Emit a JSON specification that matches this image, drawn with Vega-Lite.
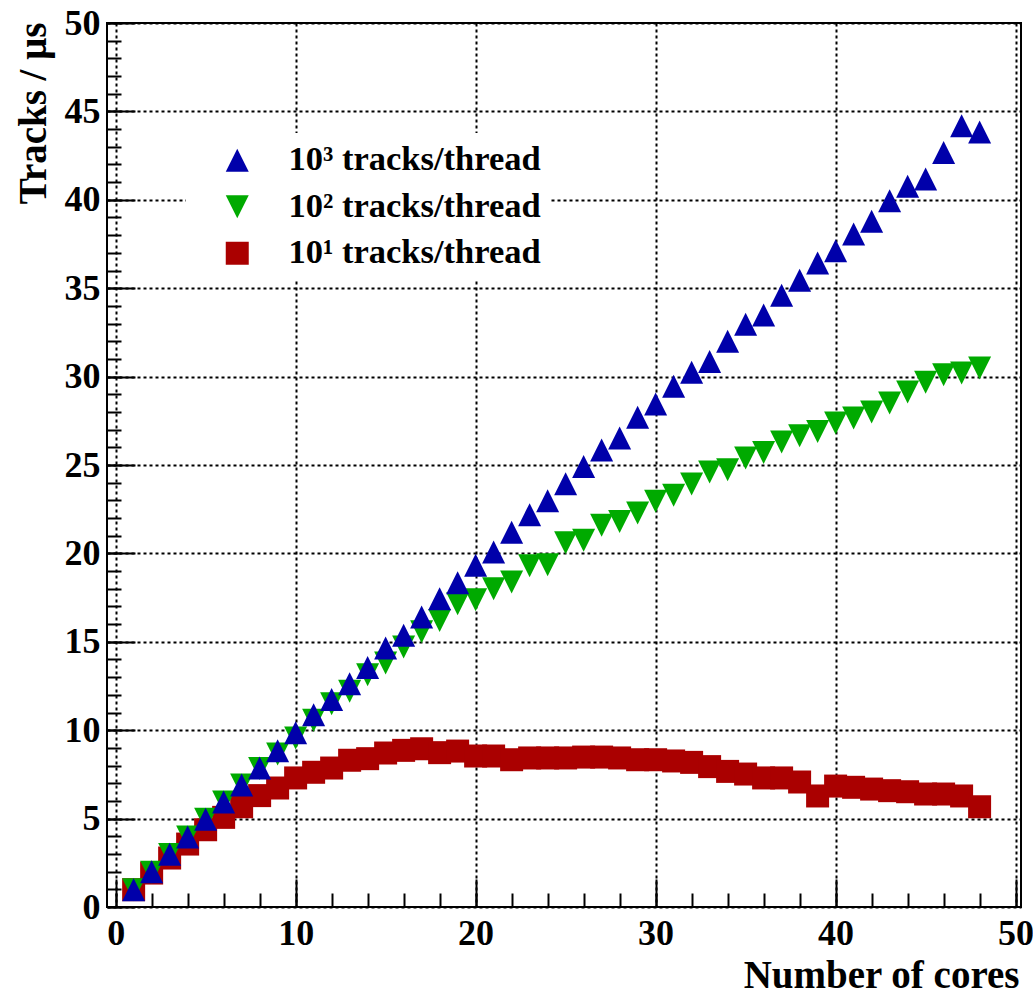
{
  "$schema": "https://vega.github.io/schema/vega-lite/v6.json",
  "width": 914,
  "height": 884,
  "autosize": {"type": "none"},
  "padding": {"left": 107, "top": 23, "right": 12, "bottom": 89},
  "background": "white",
  "config": {
    "view": {"stroke": "black", "strokeWidth": 2},
    "axis": {
      "labelFont": "Liberation Serif", "labelFontWeight": "bold", "labelFontSize": 36, "labelColor": "black",
      "titleFont": "Liberation Serif", "titleFontWeight": "bold", "titleFontSize": 39, "titleColor": "black",
      "tickColor": "black", "tickWidth": 2, "gridColor": "black", "gridDash": [3, 3], "gridWidth": 2, "gridOpacity": 1,
      "domain": false, "labelFlush": false, "labelOverlap": false
    }
  },
  "data": {"values": [
    {"cores":1,"rate":0.98,"series":"10¹ tracks/thread"},{"cores":2,"rate":1.92,"series":"10¹ tracks/thread"},{"cores":3,"rate":2.77,"series":"10¹ tracks/thread"},{"cores":4,"rate":3.56,"series":"10¹ tracks/thread"},{"cores":5,"rate":4.37,"series":"10¹ tracks/thread"},{"cores":6,"rate":5.07,"series":"10¹ tracks/thread"},{"cores":7,"rate":5.67,"series":"10¹ tracks/thread"},{"cores":8,"rate":6.3,"series":"10¹ tracks/thread"},{"cores":9,"rate":6.73,"series":"10¹ tracks/thread"},{"cores":10,"rate":7.3,"series":"10¹ tracks/thread"},{"cores":11,"rate":7.62,"series":"10¹ tracks/thread"},{"cores":12,"rate":7.86,"series":"10¹ tracks/thread"},{"cores":13,"rate":8.3,"series":"10¹ tracks/thread"},{"cores":14,"rate":8.39,"series":"10¹ tracks/thread"},{"cores":15,"rate":8.71,"series":"10¹ tracks/thread"},{"cores":16,"rate":8.86,"series":"10¹ tracks/thread"},{"cores":17,"rate":8.95,"series":"10¹ tracks/thread"},{"cores":18,"rate":8.73,"series":"10¹ tracks/thread"},{"cores":19,"rate":8.82,"series":"10¹ tracks/thread"},{"cores":20,"rate":8.54,"series":"10¹ tracks/thread"},{"cores":21,"rate":8.54,"series":"10¹ tracks/thread"},{"cores":22,"rate":8.33,"series":"10¹ tracks/thread"},{"cores":23,"rate":8.43,"series":"10¹ tracks/thread"},{"cores":24,"rate":8.43,"series":"10¹ tracks/thread"},{"cores":25,"rate":8.43,"series":"10¹ tracks/thread"},{"cores":26,"rate":8.48,"series":"10¹ tracks/thread"},{"cores":27,"rate":8.48,"series":"10¹ tracks/thread"},{"cores":28,"rate":8.43,"series":"10¹ tracks/thread"},{"cores":29,"rate":8.33,"series":"10¹ tracks/thread"},{"cores":30,"rate":8.33,"series":"10¹ tracks/thread"},{"cores":31,"rate":8.26,"series":"10¹ tracks/thread"},{"cores":32,"rate":8.18,"series":"10¹ tracks/thread"},{"cores":33,"rate":7.94,"series":"10¹ tracks/thread"},{"cores":34,"rate":7.67,"series":"10¹ tracks/thread"},{"cores":35,"rate":7.52,"series":"10¹ tracks/thread"},{"cores":36,"rate":7.3,"series":"10¹ tracks/thread"},{"cores":37,"rate":7.3,"series":"10¹ tracks/thread"},{"cores":38,"rate":7.07,"series":"10¹ tracks/thread"},{"cores":39,"rate":6.28,"series":"10¹ tracks/thread"},{"cores":40,"rate":6.84,"series":"10¹ tracks/thread"},{"cores":41,"rate":6.77,"series":"10¹ tracks/thread"},{"cores":42,"rate":6.67,"series":"10¹ tracks/thread"},{"cores":43,"rate":6.58,"series":"10¹ tracks/thread"},{"cores":44,"rate":6.52,"series":"10¹ tracks/thread"},{"cores":45,"rate":6.39,"series":"10¹ tracks/thread"},{"cores":46,"rate":6.39,"series":"10¹ tracks/thread"},{"cores":47,"rate":6.28,"series":"10¹ tracks/thread"},{"cores":48,"rate":5.67,"series":"10¹ tracks/thread"},
    {"cores":1,"rate":0.97,"series":"10² tracks/thread"},{"cores":2,"rate":1.97,"series":"10² tracks/thread"},{"cores":3,"rate":2.97,"series":"10² tracks/thread"},{"cores":4,"rate":3.96,"series":"10² tracks/thread"},{"cores":5,"rate":4.96,"series":"10² tracks/thread"},{"cores":6,"rate":5.94,"series":"10² tracks/thread"},{"cores":7,"rate":6.9,"series":"10² tracks/thread"},{"cores":8,"rate":7.83,"series":"10² tracks/thread"},{"cores":9,"rate":8.65,"series":"10² tracks/thread"},{"cores":10,"rate":9.56,"series":"10² tracks/thread"},{"cores":11,"rate":10.56,"series":"10² tracks/thread"},{"cores":12,"rate":11.5,"series":"10² tracks/thread"},{"cores":13,"rate":12.2,"series":"10² tracks/thread"},{"cores":14,"rate":13.14,"series":"10² tracks/thread"},{"cores":15,"rate":13.8,"series":"10² tracks/thread"},{"cores":16,"rate":14.7,"series":"10² tracks/thread"},{"cores":17,"rate":15.57,"series":"10² tracks/thread"},{"cores":18,"rate":16.21,"series":"10² tracks/thread"},{"cores":19,"rate":17.15,"series":"10² tracks/thread"},{"cores":20,"rate":17.38,"series":"10² tracks/thread"},{"cores":21,"rate":18.0,"series":"10² tracks/thread"},{"cores":22,"rate":18.38,"series":"10² tracks/thread"},{"cores":23,"rate":19.3,"series":"10² tracks/thread"},{"cores":24,"rate":19.36,"series":"10² tracks/thread"},{"cores":25,"rate":20.6,"series":"10² tracks/thread"},{"cores":26,"rate":20.74,"series":"10² tracks/thread"},{"cores":27,"rate":21.59,"series":"10² tracks/thread"},{"cores":28,"rate":21.81,"series":"10² tracks/thread"},{"cores":29,"rate":22.28,"series":"10² tracks/thread"},{"cores":30,"rate":22.95,"series":"10² tracks/thread"},{"cores":31,"rate":23.29,"series":"10² tracks/thread"},{"cores":32,"rate":23.93,"series":"10² tracks/thread"},{"cores":33,"rate":24.6,"series":"10² tracks/thread"},{"cores":34,"rate":24.73,"series":"10² tracks/thread"},{"cores":35,"rate":25.4,"series":"10² tracks/thread"},{"cores":36,"rate":25.7,"series":"10² tracks/thread"},{"cores":37,"rate":26.3,"series":"10² tracks/thread"},{"cores":38,"rate":26.65,"series":"10² tracks/thread"},{"cores":39,"rate":26.9,"series":"10² tracks/thread"},{"cores":40,"rate":27.38,"series":"10² tracks/thread"},{"cores":41,"rate":27.66,"series":"10² tracks/thread"},{"cores":42,"rate":28.0,"series":"10² tracks/thread"},{"cores":43,"rate":28.5,"series":"10² tracks/thread"},{"cores":44,"rate":29.13,"series":"10² tracks/thread"},{"cores":45,"rate":29.68,"series":"10² tracks/thread"},{"cores":46,"rate":30.1,"series":"10² tracks/thread"},{"cores":47,"rate":30.2,"series":"10² tracks/thread"},{"cores":48,"rate":30.49,"series":"10² tracks/thread"},
    {"cores":1,"rate":0.97,"series":"10³ tracks/thread"},{"cores":2,"rate":2.0,"series":"10³ tracks/thread"},{"cores":3,"rate":2.98,"series":"10³ tracks/thread"},{"cores":4,"rate":3.96,"series":"10³ tracks/thread"},{"cores":5,"rate":4.96,"series":"10³ tracks/thread"},{"cores":6,"rate":5.94,"series":"10³ tracks/thread"},{"cores":7,"rate":6.9,"series":"10³ tracks/thread"},{"cores":8,"rate":7.86,"series":"10³ tracks/thread"},{"cores":9,"rate":8.84,"series":"10³ tracks/thread"},{"cores":10,"rate":9.85,"series":"10³ tracks/thread"},{"cores":11,"rate":10.88,"series":"10³ tracks/thread"},{"cores":12,"rate":11.73,"series":"10³ tracks/thread"},{"cores":13,"rate":12.63,"series":"10³ tracks/thread"},{"cores":14,"rate":13.54,"series":"10³ tracks/thread"},{"cores":15,"rate":14.65,"series":"10³ tracks/thread"},{"cores":16,"rate":15.37,"series":"10³ tracks/thread"},{"cores":17,"rate":16.4,"series":"10³ tracks/thread"},{"cores":18,"rate":17.44,"series":"10³ tracks/thread"},{"cores":19,"rate":18.34,"series":"10³ tracks/thread"},{"cores":20,"rate":19.33,"series":"10³ tracks/thread"},{"cores":21,"rate":20.08,"series":"10³ tracks/thread"},{"cores":22,"rate":21.19,"series":"10³ tracks/thread"},{"cores":23,"rate":22.19,"series":"10³ tracks/thread"},{"cores":24,"rate":22.98,"series":"10³ tracks/thread"},{"cores":25,"rate":23.94,"series":"10³ tracks/thread"},{"cores":26,"rate":24.92,"series":"10³ tracks/thread"},{"cores":27,"rate":25.85,"series":"10³ tracks/thread"},{"cores":28,"rate":26.53,"series":"10³ tracks/thread"},{"cores":29,"rate":27.7,"series":"10³ tracks/thread"},{"cores":30,"rate":28.45,"series":"10³ tracks/thread"},{"cores":31,"rate":29.45,"series":"10³ tracks/thread"},{"cores":32,"rate":30.24,"series":"10³ tracks/thread"},{"cores":33,"rate":30.86,"series":"10³ tracks/thread"},{"cores":34,"rate":32.0,"series":"10³ tracks/thread"},{"cores":35,"rate":32.96,"series":"10³ tracks/thread"},{"cores":36,"rate":33.48,"series":"10³ tracks/thread"},{"cores":37,"rate":34.6,"series":"10³ tracks/thread"},{"cores":38,"rate":35.45,"series":"10³ tracks/thread"},{"cores":39,"rate":36.43,"series":"10³ tracks/thread"},{"cores":40,"rate":37.12,"series":"10³ tracks/thread"},{"cores":41,"rate":38.07,"series":"10³ tracks/thread"},{"cores":42,"rate":38.78,"series":"10³ tracks/thread"},{"cores":43,"rate":39.95,"series":"10³ tracks/thread"},{"cores":44,"rate":40.76,"series":"10³ tracks/thread"},{"cores":45,"rate":41.18,"series":"10³ tracks/thread"},{"cores":46,"rate":42.68,"series":"10³ tracks/thread"},{"cores":47,"rate":44.19,"series":"10³ tracks/thread"},{"cores":48,"rate":43.83,"series":"10³ tracks/thread"}
  ]},
  "layer": [
    {
      "mark": {"type": "point", "opacity": 0},
      "encoding": {
        "x": {"field": "cores", "type": "quantitative", "scale": {"domain": [-0.48, 50.3], "nice": false, "zero": false},
              "axis": {"orient": "bottom", "values": [0,2,4,6,8,10,12,14,16,18,20,22,24,26,28,30,32,34,36,38,40,42,44,46,48,50], "tickSize": -14, "labels": false, "grid": false, "title": null}},
        "y": {"field": "rate", "type": "quantitative", "scale": {"domain": [0, 50], "nice": false, "zero": false},
              "axis": {"orient": "left", "values": [0,1,2,3,4,5,6,7,8,9,10,11,12,13,14,15,16,17,18,19,20,21,22,23,24,25,26,27,28,29,30,31,32,33,34,35,36,37,38,39,40,41,42,43,44,45,46,47,48,49,50], "tickSize": -14, "labels": false, "grid": false, "title": null}}
      }
    },
    {
      "mark": {"type": "point", "opacity": 0},
      "encoding": {
        "x": {"field": "cores", "type": "quantitative", "scale": {"domain": [-0.48, 50.3], "nice": false, "zero": false},
              "axis": {"orient": "bottom", "values": [0,10,20,30,40,50], "tickSize": -28, "labels": false, "grid": true, "title": null}},
        "y": {"field": "rate", "type": "quantitative", "scale": {"domain": [0, 50], "nice": false, "zero": false},
              "axis": {"orient": "left", "values": [0,5,10,15,20,25,30,35,40,45,50], "tickSize": -28, "labels": false, "grid": true, "title": null}}
      }
    },
    {
      "mark": {"type": "point", "filled": true, "opacity": 1, "strokeWidth": 0},
      "encoding": {
        "x": {"field": "cores", "type": "quantitative", "scale": {"domain": [-0.48, 50.3], "nice": false, "zero": false},
              "axis": {"orient": "bottom", "values": [0,10,20,30,40,50], "ticks": false, "grid": false, "labelPadding": 9,
                       "title": "Number of cores", "titleAnchor": "end", "titleAlign": "right", "titleBaseline": "alphabetic", "titleX": 912, "titleY": 80}},
        "y": {"field": "rate", "type": "quantitative", "scale": {"domain": [0, 50], "nice": false, "zero": false},
              "axis": {"orient": "left", "values": [0,5,10,15,20,25,30,35,40,45,50], "ticks": false, "grid": false, "labelPadding": 7,
                       "title": "Tracks / μs", "titleAngle": 270, "titleAnchor": "end", "titleAlign": "right", "titleBaseline": "alphabetic", "titleX": -62, "titleY": -1}},
        "color": {"field": "series", "type": "nominal",
                  "scale": {"domain": ["10³ tracks/thread", "10² tracks/thread", "10¹ tracks/thread"], "range": ["#0000aa", "#00aa00", "#aa0000"]},
                  "legend": {"orient": "none", "legendX": 79, "legendY": 110, "fillColor": "white", "padding": 10,
                             "title": " ", "titleOrient": "left", "titleFontSize": 8, "titlePadding": 24,
                             "labelFont": "Liberation Serif", "labelFontWeight": "bold", "labelFontSize": 34.5, "labelColor": "black",
                             "labelOffset": 34, "labelLimit": 600, "labelExpr": "datum.label + '     '",
                             "rowPadding": 11.5, "symbolSize": 550, "symbolStrokeWidth": 0}},
        "shape": {"field": "series", "type": "nominal",
                  "scale": {"domain": ["10³ tracks/thread", "10² tracks/thread", "10¹ tracks/thread"], "range": ["M0,-1L1,1L-1,1Z", "M0,1L1,-1L-1,-1Z", "square"]},
                  "legend": {"orient": "none", "legendX": 79, "legendY": 110, "fillColor": "white", "padding": 10,
                             "title": " ", "titleOrient": "left", "titleFontSize": 8, "titlePadding": 24,
                             "labelFont": "Liberation Serif", "labelFontWeight": "bold", "labelFontSize": 34.5, "labelColor": "black",
                             "labelOffset": 34, "labelLimit": 600, "labelExpr": "datum.label + '     '",
                             "rowPadding": 11.5, "symbolSize": 550, "symbolStrokeWidth": 0}},
        "size": {"field": "series", "type": "nominal",
                 "scale": {"domain": ["10³ tracks/thread", "10² tracks/thread", "10¹ tracks/thread"], "range": [529, 529, 576]},
                 "legend": null}
      }
    }
  ],
  "resolve": {"scale": {"x": "independent", "y": "independent"}}
}
